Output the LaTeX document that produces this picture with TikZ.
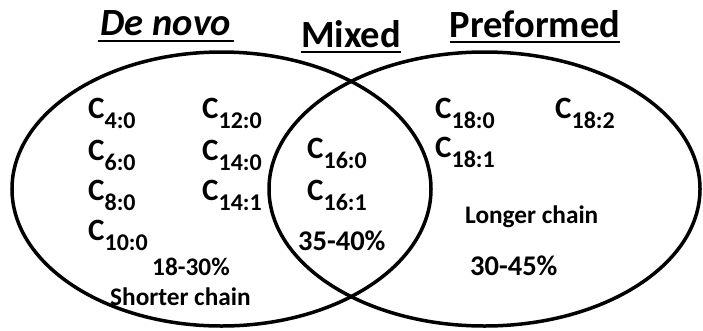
\documentclass[tikz,border=0pt]{standalone}
\usepackage{fontspec}
\setmainfont{Carlito}
\usetikzlibrary{positioning}

\newcommand{\fa}[1]{C\raisebox{-10pt}{\fontsize{24}{24}\selectfont #1}}

\begin{document}
\begin{tikzpicture}[x=1pt,y=-1pt,
	fa/.style={anchor=base west,inner sep=0pt,font=\fontsize{31}{31}\selectfont\bfseries},
	pct/.style={anchor=base west,inner sep=0pt,font=\fontsize{28.5}{28.5}\selectfont\bfseries},
	note/.style={anchor=base west,inner sep=0pt,font=\fontsize{25.3}{25.3}\selectfont\bfseries},
	head/.style={anchor=base,inner sep=0pt,font=\fontsize{38.5}{38.5}\selectfont\bfseries},
	uline/.style={line width=2.2pt}]

	\useasboundingbox (0,0) rectangle (703,330);

	\draw[line width=3.5pt]	(221.5,189)	ellipse	[x radius=209.5, y radius=137];
	\draw[line width=3.5pt]	(484.5,189)	ellipse	[x radius=215.5, y radius=137];

	\node 	(dn)	at	(166,35) 	[head]{\itshape De novo};
	\node 	(mx)	at	(351,47) 	[head]{Mixed};
	\node 	(pf)	at	(535,37) 	[head]{Preformed};

	\draw[uline]	([shift={(-3pt,-6pt)}]dn.base west)	--	([shift={(2pt,-6pt)}]dn.base east);
	\draw[uline]	([shift={(0pt,-5pt)}]mx.base west)	--	([shift={(0pt,-5pt)}]mx.base east);
	\draw[uline]	([shift={(0pt,-5pt)}]pf.base west)	--	([shift={(0pt,-5pt)}]pf.base east);

	% de novo
	\node 	(c4)	at	(88,118) 	[fa]{\fa{4:0}};
	\node 	(c6)	at	(88,160) 	[fa]{\fa{6:0}};
	\node 	(c8)	at	(88,200) 	[fa]{\fa{8:0}};
	\node 	(c10)	at	(88,240) 	[fa]{\fa{10:0}};
	\node 	(c12)	at	(202,118) 	[fa]{\fa{12:0}};
	\node 	(c14)	at	(202,160) 	[fa]{\fa{14:0}};
	\node 	(c141)	at	(202,200) 	[fa]{\fa{14:1}};
	\node 	(p1)	at	(152,275) 	[note]{18-30\%};
	\node 	(sc)	at	(110,305) 	[note]{Shorter chain};

	% mixed
	\node 	(c16)	at	(307,158) 	[fa]{\fa{16:0}};
	\node 	(c161)	at	(307,200) 	[fa]{\fa{16:1}};
	\node 	(p2)	at	(298,250) 	[pct]{35-40\%};

	% preformed
	\node 	(c18)	at	(435,118) 	[fa]{\fa{18:0}};
	\node 	(c182)	at	(555,118) 	[fa]{\fa{18:2}};
	\node 	(c181)	at	(435,157) 	[fa]{\fa{18:1}};
	\node 	(lc)	at	(465,223) 	[note]{Longer chain};
	\node 	(p3)	at	(470,275) 	[pct]{30-45\%};

\end{tikzpicture}
\end{document}
